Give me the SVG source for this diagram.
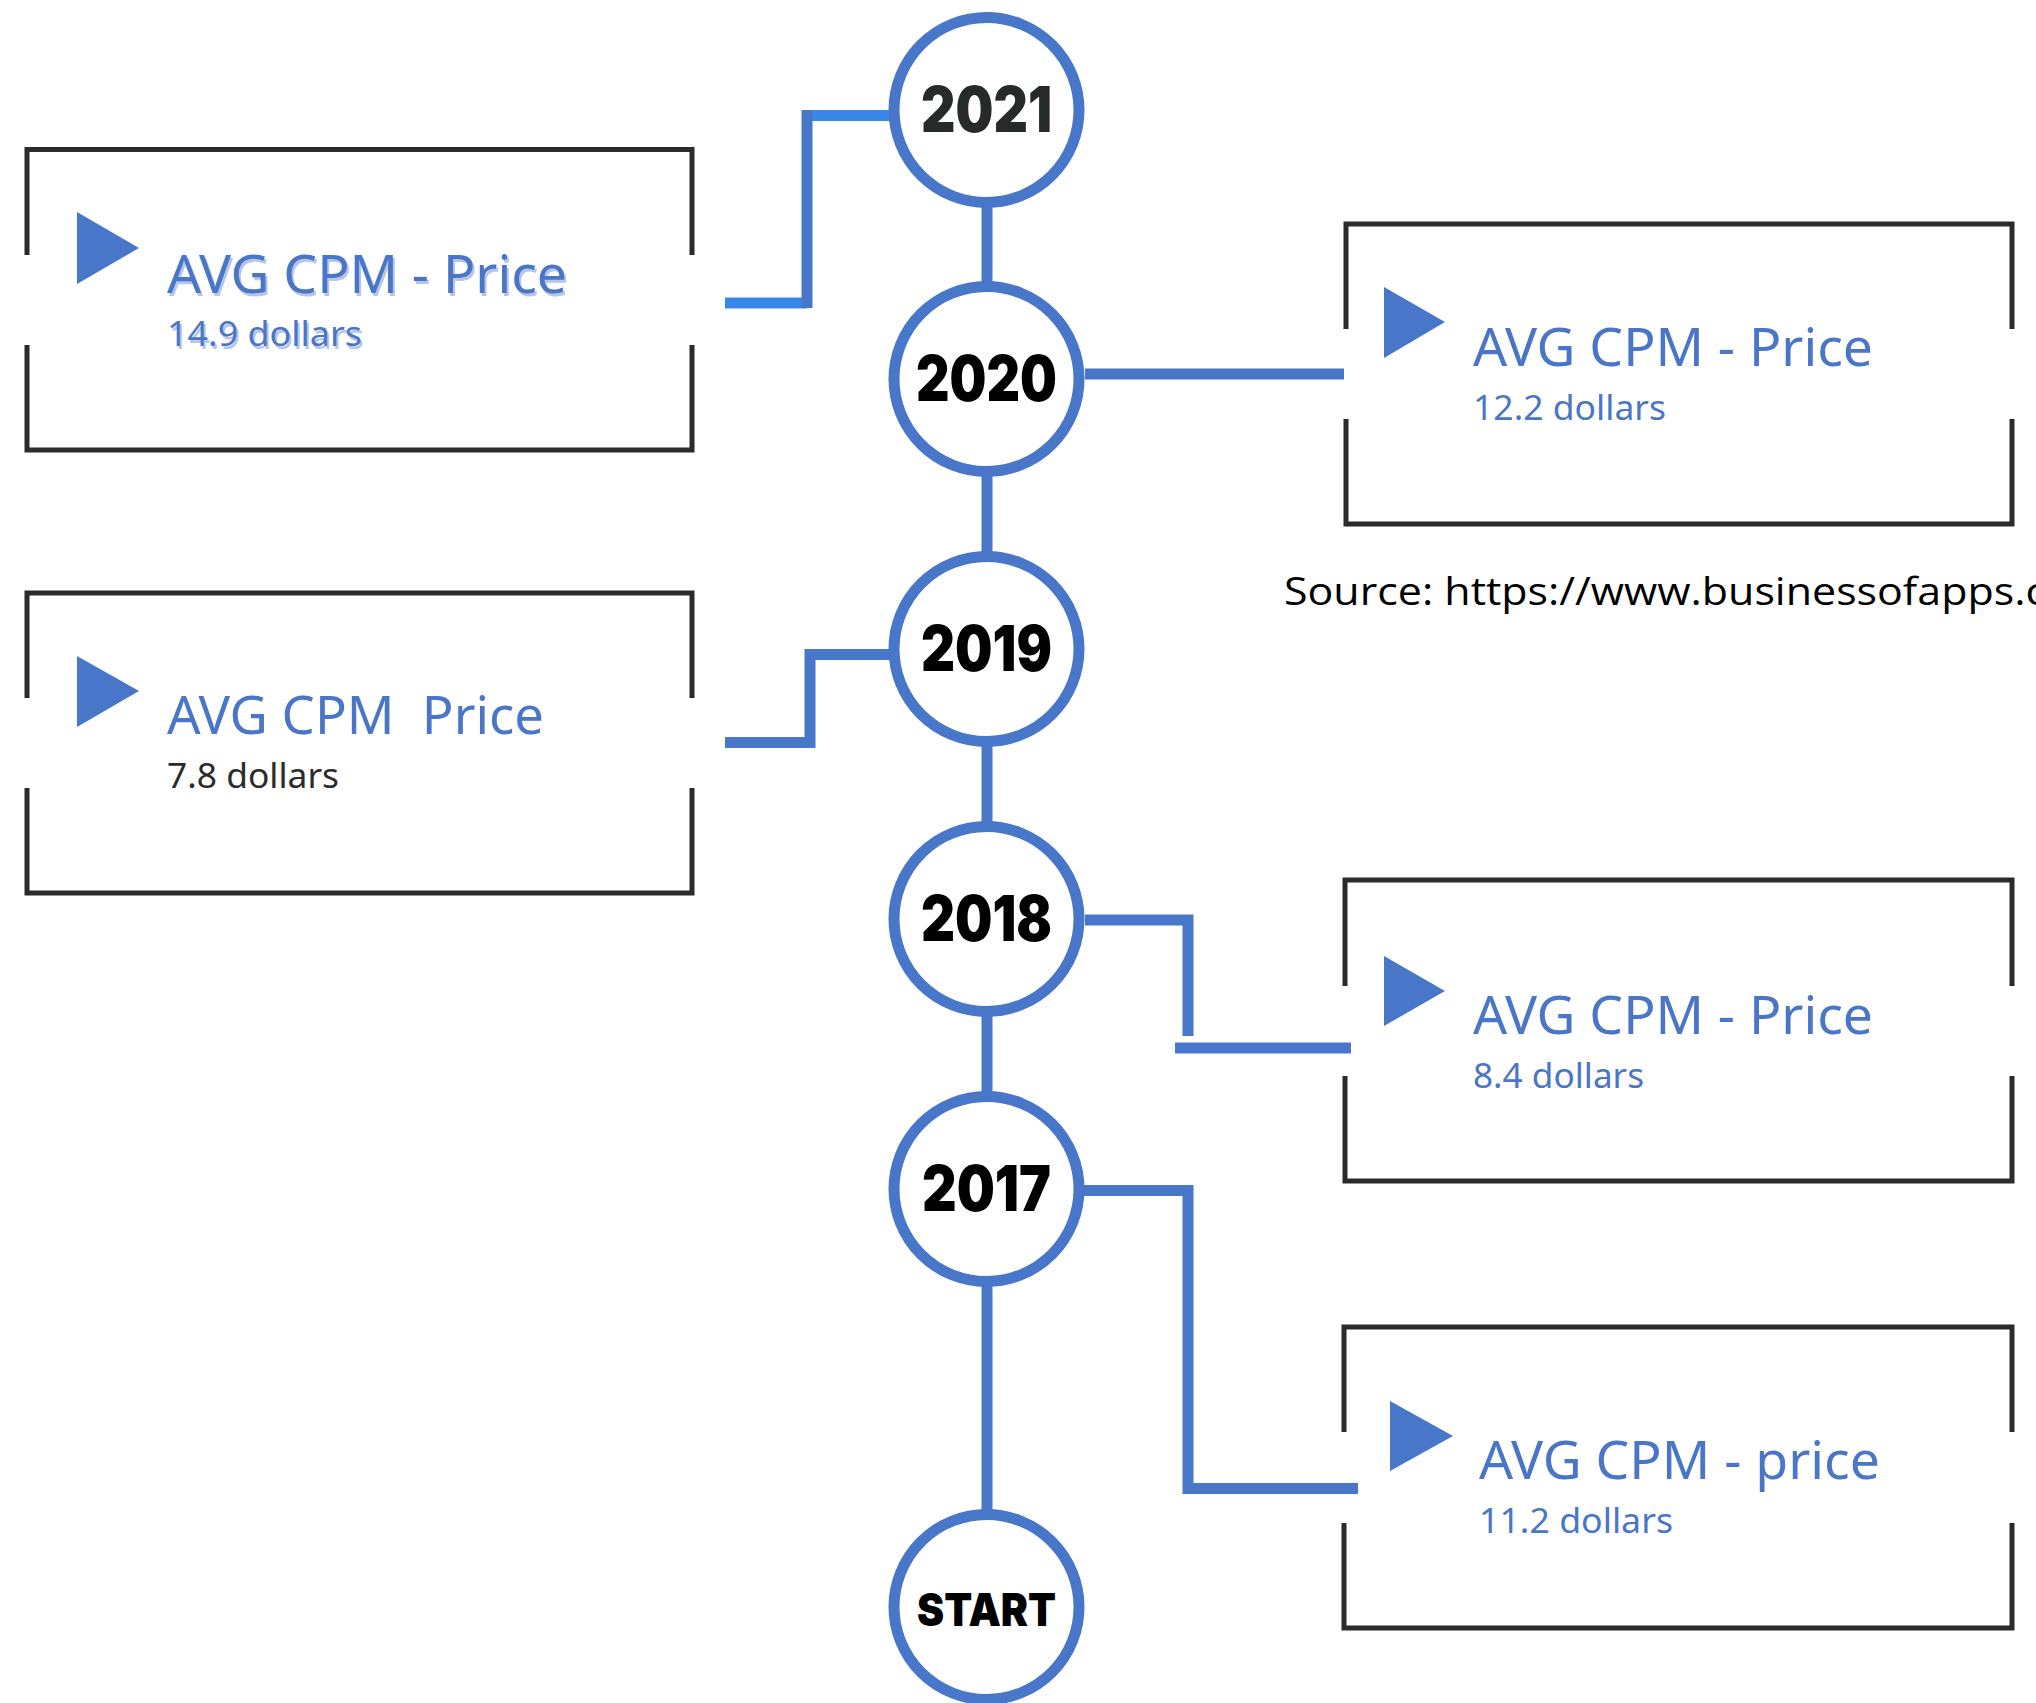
<svg xmlns="http://www.w3.org/2000/svg" width="2036" height="1703" viewBox="0 0 2036 1703">
<style>
.box{fill:none;stroke:#2b2b2b;stroke-width:5}
.tri{fill:#4876c9}
.title{font-family:"Noto Sans","Open Sans",sans-serif;font-size:52px;fill:#4a76c8}
.sub{font-family:"Noto Sans","Open Sans",sans-serif;font-size:35px;fill:#4a76c8}
.shadow{fill:#b7c6e8}
.dark{fill:#2b2b2b}
.ring{fill:#ffffff;stroke:#4876c9;stroke-width:11}
.year{font-family:Inter,Roboto,"DejaVu Sans",sans-serif;font-weight:900;font-size:63px;fill:#000;text-anchor:middle}
.conn{fill:none;stroke:#4876c9;stroke-width:11;stroke-linejoin:miter}
.bright{stroke:#3a87eb}
.src{font-family:"Open Sans","Noto Sans",sans-serif;font-size:38px;fill:#000}
</style>
<rect width="2036" height="1703" fill="#ffffff"/>
<g id="connectors">
<line class="conn" x1="987" y1="110" x2="987" y2="1607" stroke-width="10"/>
<path class="conn bright" d="M890,115.5 H807"/>
<path class="conn bright" d="M807,303 H725"/>
<path class="conn" d="M807,110 V308"/>
<path class="conn" d="M1085,374 H1344"/>
<path class="conn" d="M890,654.5 H810 V742.5 H725"/>
<path class="conn" d="M1085,920 H1188 V1036"/>
<path class="conn" d="M1175,1048 H1351"/>
<path class="conn" d="M1084,1190.5 H1188 V1488.5 H1358"/>
</g>
<g id="node-2021">
<circle class="ring" cx="986.5" cy="110" r="92.5"/>
<text class="year" x="986.5" y="132" textLength="131" lengthAdjust="spacingAndGlyphs" fill="#262a28" style="fill:#262a28">2021</text>
</g>
<g id="node-2020">
<circle class="ring" cx="986.5" cy="379" r="92.5"/>
<text class="year" x="986.5" y="401" textLength="141" lengthAdjust="spacingAndGlyphs">2020</text>
</g>
<g id="node-2019">
<circle class="ring" cx="986.5" cy="649" r="92.5"/>
<text class="year" x="986.5" y="671" textLength="131" lengthAdjust="spacingAndGlyphs">2019</text>
</g>
<g id="node-2018">
<circle class="ring" cx="986.5" cy="919" r="92.5"/>
<text class="year" x="986.5" y="941" textLength="131" lengthAdjust="spacingAndGlyphs">2018</text>
</g>
<g id="node-2017">
<circle class="ring" cx="986.5" cy="1189" r="92.5"/>
<text class="year" x="986.5" y="1211" textLength="129" lengthAdjust="spacingAndGlyphs">2017</text>
</g>
<g id="node-start">
<circle class="ring" cx="986.5" cy="1607" r="92.5"/>
<text class="year" x="986.5" y="1626" font-size="45" style="font-size:45px" textLength="139" lengthAdjust="spacingAndGlyphs">START</text>
</g>
<g id="box-2021">
<path class="box" d="M27,255 V149.5 H692 V255 M692,345 V450 H27 V345"/>
<polygon class="tri" points="77,212 77,284 139,248"/>
<text class="title shadow" x="169" y="296" textLength="400" lengthAdjust="spacingAndGlyphs">AVG CPM - Price</text>
<text class="title" x="167" y="293" textLength="400" lengthAdjust="spacingAndGlyphs">AVG CPM - Price</text>
<text class="sub shadow" x="169" y="349" textLength="195" lengthAdjust="spacingAndGlyphs">14.9 dollars</text>
<text class="sub" x="167" y="346" textLength="195" lengthAdjust="spacingAndGlyphs">14.9 dollars</text>
</g>
<g id="box-2020">
<path class="box" d="M1346,329 V224 H2012 V329 M2012,419 V524 H1346 V419"/>
<polygon class="tri" points="1384,287 1384,358 1445,322"/>
<text class="title" x="1473" y="366" textLength="400" lengthAdjust="spacingAndGlyphs">AVG CPM - Price</text>
<text class="sub" x="1473" y="420" textLength="193" lengthAdjust="spacingAndGlyphs">12.2 dollars</text>
</g>
<g id="box-2019">
<path class="box" d="M27,698 V593 H692 V698 M692,788 V893 H27 V788"/>
<polygon class="tri" points="77,656 77,727 139,691"/>
<text class="title" x="167" y="734" textLength="377" lengthAdjust="spacingAndGlyphs" xml:space="preserve">AVG CPM  Price</text>
<text class="sub dark" x="167" y="788" textLength="172" lengthAdjust="spacingAndGlyphs">7.8 dollars</text>
</g>
<g id="box-2018">
<path class="box" d="M1345,986 V880 H2012 V986 M2012,1076 V1181 H1345 V1076"/>
<polygon class="tri" points="1384,956 1384,1026 1445,991"/>
<text class="title" x="1473" y="1034" textLength="400" lengthAdjust="spacingAndGlyphs">AVG CPM - Price</text>
<text class="sub" x="1473" y="1088" textLength="171" lengthAdjust="spacingAndGlyphs">8.4 dollars</text>
</g>
<g id="box-2017">
<path class="box" d="M1344,1432 V1327 H2012 V1432 M2012,1523 V1628 H1344 V1523"/>
<polygon class="tri" points="1390,1401 1390,1471 1453,1436"/>
<text class="title" x="1479" y="1479" textLength="401" lengthAdjust="spacingAndGlyphs">AVG CPM - price</text>
<text class="sub" x="1479" y="1533" textLength="194" lengthAdjust="spacingAndGlyphs">11.2 dollars</text>
</g>
<g id="source">
<text class="src" x="1284" y="605" textLength="762" lengthAdjust="spacingAndGlyphs">Source: https://www.businessofapps.c</text>
</g>
</svg>
